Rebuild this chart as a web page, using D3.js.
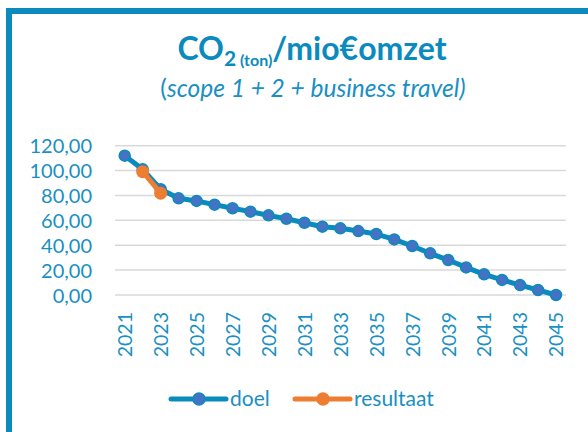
<!DOCTYPE html>
<html>
<head>
<meta charset="utf-8">
<script src="https://cdn.jsdelivr.net/npm/d3@7"></script>
<style>
  body { margin: 0; background: #fff; }
  svg { display: block; font-family: Lato, "Open Sans", sans-serif; }
</style>
</head>
<body>
<div id="app"></div>
<script>
let years = d3.range(2021, 2046);
let doel = [112.0, 101.0, 85.0, 77.7, 75.6, 72.6, 69.7, 67.0, 64.0, 61.3, 58.1, 54.9, 53.6,
            51.4, 49.0, 44.7, 39.4, 33.5, 28.1, 22.2, 16.6, 12.1, 8.0, 4.0, 0.0];
let resultaat = [null, 99.1, 81.8];
let yTicks = [0, 20, 40, 60, 80, 100, 120];
let xLabels = years.filter((d, i) => i % 2 === 0);

let width = 588;
let height = 432;
let teal = '#0b8bbd';
let textColor = '#1a8fc3';

let svg = d3.select('#app').append('svg')
    .attr('width', width)
    .attr('height', height)

// frame (only top and left visible)
svg.append('path')
    .attr('d', 'M9,432 L9,11 L588,11')
    .attr('fill', 'none')
    .attr('stroke', teal)
    .attr('stroke-width', 6)

let xScale = d3.scalePoint()
               .domain(years)
               .range([124.7, 556])

let yScale = d3.scaleLinear()
               .domain([0, 120])
               .range([295, 145.7])

let locale = d3.formatLocale({decimal: ',', thousands: '.', grouping: [3], currency: ['€', '']});
let fmt = locale.format('.2f');

// gridlines
svg.append('g')
  .selectAll('line')
    .data(yTicks)
    .enter()
    .append('line')
      .attr('x1', 115)
      .attr('x2', 566)
      .attr('y1', d => yScale(d))
      .attr('y2', d => yScale(d))
      .attr('stroke', '#d9d9d9')
      .attr('stroke-width', 1.5)

// y axis
let yAxis = svg.append('g')
    .attr('transform', 'translate(96,0)')
    .call(d3.axisLeft(yScale).tickValues(yTicks).tickFormat(fmt).tickSize(0).tickPadding(4))
yAxis.select('.domain').remove()
yAxis.selectAll('text')
    .attr('fill', textColor)
    .style('font-size', '20px')
    .style('font-family', 'Lato, sans-serif')
    .attr('dy', '0.35em')

// x axis
let xAxis = svg.append('g')
    .attr('transform', 'translate(0,306)')
    .call(d3.axisBottom(xScale).tickValues(xLabels).tickSize(0).tickPadding(0))
xAxis.select('.domain').remove()
xAxis.selectAll('text')
    .attr('fill', textColor)
    .style('font-size', '19.5px')
    .style('font-family', 'Lato, sans-serif')
    .attr('text-anchor', 'end')
    .attr('transform', 'rotate(-90)')
    .attr('x', -6)
    .attr('y', 0)
    .attr('dy', '0.35em')

// doel line
let line = d3.line()
    .defined(d => d[1] != null)
    .x(d => xScale(d[0]))
    .y(d => yScale(d[1]))

svg.append('path')
    .datum(years.map((y, i) => [y, doel[i]]))
    .attr('d', line)
    .attr('fill', 'none')
    .attr('stroke', teal)
    .attr('stroke-width', 5)
    .attr('stroke-linejoin', 'round')

svg.append('g')
  .selectAll('circle')
    .data(years.map((y, i) => [y, doel[i]]))
    .enter()
    .append('circle')
      .attr('cx', d => xScale(d[0]))
      .attr('cy', d => yScale(d[1]))
      .attr('r', 5.5)
      .attr('fill', '#4472c4')
      .attr('stroke', teal)
      .attr('stroke-width', 1.5)

// resultaat line
let resData = years.slice(0, resultaat.length).map((y, i) => [y, resultaat[i]]).filter(d => d[1] != null)
svg.append('path')
    .datum(resData)
    .attr('d', line)
    .attr('fill', 'none')
    .attr('stroke', '#ed7d31')
    .attr('stroke-width', 5)
    .attr('stroke-linejoin', 'round')

svg.append('g')
  .selectAll('circle')
    .data(resData)
    .enter()
    .append('circle')
      .attr('cx', d => xScale(d[0]))
      .attr('cy', d => yScale(d[1]))
      .attr('r', 6.5)
      .attr('fill', '#ed7d31')

// title
let title = svg.append('text')
    .attr('x', 312)
    .attr('y', 60)
    .attr('text-anchor', 'middle')
    .attr('fill', teal)
    .style('font-weight', 'bold')
    .style('font-size', '32px')
title.append('tspan').text('CO')
title.append('tspan').text('2').style('font-size', '21px').attr('dy', 6)
title.append('tspan').text(' (ton)').style('font-size', '16px')
title.append('tspan').text('/mio€omzet').attr('dy', -6)

let sub = svg.append('text')
    .attr('x', 313)
    .attr('y', 97)
    .attr('text-anchor', 'middle')
    .attr('fill', textColor)
    .style('font-size', '24.5px')
sub.append('tspan').text('(')
sub.append('tspan').text('scope 1 + 2 + business travel)').style('font-style', 'italic')

// legend
let legend = [
  {name: 'doel', line: teal, fill: '#4472c4', x: 171},
  {name: 'resultaat', line: '#ed7d31', fill: '#ed7d31', x: 295}
]
let lg = svg.append('g')
  .selectAll('g')
    .data(legend)
    .enter()
    .append('g')
      .attr('transform', d => 'translate(' + d.x + ',399)')
lg.append('line')
    .attr('x1', 0)
    .attr('x2', 55)
    .attr('stroke', d => d.line)
    .attr('stroke-width', 5)
    .attr('stroke-linecap', 'round')
lg.append('circle')
    .attr('cx', 28)
    .attr('r', 6)
    .attr('fill', d => d.fill)
    .attr('stroke', d => d.line)
    .attr('stroke-width', 1.5)
lg.append('text')
    .attr('x', 59)
    .attr('dy', '0.35em')
    .attr('fill', textColor)
    .style('font-size', '21px')
    .text(d => d.name)
</script>
</body>
</html>
